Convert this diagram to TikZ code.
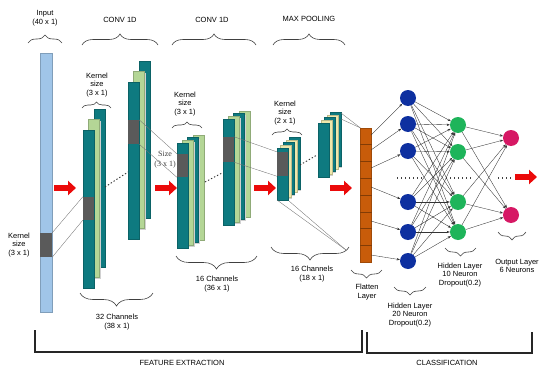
\documentclass[tikz,border=0pt]{standalone}
\usepackage{fontspec}
\setmainfont{Liberation Sans}
\newfontfamily\serifface{Liberation Serif}
\usepackage{tikz}
\usetikzlibrary{calc, arrows.meta, positioning, decorations.pathreplacing}
\definecolor{inblue}{RGB}{160,197,232}
\definecolor{tealbar}{RGB}{14,122,128}
\definecolor{lgreen}{RGB}{180,214,150}
\definecolor{cream}{RGB}{238,232,172}
\definecolor{kgray}{RGB}{90,90,90}
\definecolor{flatorange}{RGB}{200,92,10}
\definecolor{nblue}{RGB}{14,48,160}
\definecolor{ngreen}{RGB}{30,180,90}
\definecolor{npink}{RGB}{214,24,100}
\definecolor{arrowred}{RGB}{235,10,10}

\begin{document}
\begin{tikzpicture}[x=1pt,y=-1pt,
    lbl/.style={font=\fontsize{7.5}{8.8}\selectfont, align=center, inner sep=0pt},
    head/.style={font=\fontsize{7.5}{9}\selectfont, inner sep=0pt},
    barfill/.style={fill=#1, draw=#1!80!black, line width=0.3pt,
      preaction={fill=black!18, transform canvas={shift={(1.3pt,-1.3pt)}}}},
    kern/.style={rectangle, fill=kgray, inner sep=0pt, minimum width=11pt},
    guide/.style={black!55, line width=0.35pt},
    gap/.style={black!80, line width=0.9pt, dash pattern=on 1.4pt off 2pt},
    dots/.style={black!75, line width=1.1pt, dash pattern=on 1.1pt off 2.9pt},
    redarrow/.style={arrowred, line width=6pt, -{Triangle[width=14pt,length=8pt]}},
    brace/.style={decorate, decoration={brace, amplitude=#1}, draw=black!75, line width=0.6pt},
    brace/.default=9pt,
    neuron/.style={circle, fill=#1, minimum size=16pt, inner sep=0pt},
    conn/.style={-{Stealth[length=3.2pt,width=2.4pt]}, line width=0.35pt, black!80},
    bracket/.style={line width=1.1pt, black!85}]
\useasboundingbox (0,0) rectangle (550,375);

% input and feature maps
\path[barfill=inblue] (40,53) rectangle (52,312);
\foreach \k/\c in {2/tealbar,1/lgreen,0/tealbar}
  \path[barfill=\c] (83+\k*5.5,130-\k*10.5) rectangle ++(11,158);
\foreach \k/\c in {2/tealbar,1/lgreen,0/tealbar}
  \path[barfill=\c] (128+\k*5.5,82-\k*10.5) rectangle ++(11,157);
\foreach \k/\c in {3/lgreen,2/tealbar,1/lgreen,0/tealbar}
  \path[barfill=\c] (177+\k*5.3,143-\k*2.7) rectangle ++(11,105);
\foreach \k/\c in {3/lgreen,2/tealbar,1/lgreen,0/tealbar}
  \path[barfill=\c] (223+\k*5.3,119-\k*2.7) rectangle ++(11,106);
\foreach \k/\c in {4/tealbar,3/cream,2/tealbar,1/cream,0/tealbar}
  \path[barfill=\c] (277+\k*3,148-\k*2.7) rectangle ++(11,52);
\foreach \k/\c in {4/tealbar,3/cream,2/tealbar,1/cream,0/tealbar}
  \path[barfill=\c] (318+\k*3,123-\k*2.7) rectangle ++(11,54);

\node[kern, minimum width=12pt, minimum height=24pt] (kin) at (46,245) {};
\node[kern, minimum height=23pt] (k1) at (88.5,208.5) {};
\node[kern, minimum height=24pt] (k2) at (133.5,132) {};
\node[kern, minimum height=23pt] (k3) at (182.5,165.5) {};
\node[kern, minimum height=25pt] (k4) at (228.5,149.5) {};
\node[kern, minimum height=24pt] (k5) at (282.5,164) {};

\draw[guide] (kin.north east) -- (k1.north west);
\draw[guide] (kin.south east) -- (k1.south west);
\draw[guide] (k2.north east) -- (k3.north west);
\draw[guide] (k2.south east) -- (k3.south west);
\draw[guide] (k4.north east) -- (k5.north west);
\draw[guide] (k4.south east) -- (k5.south west);

\draw[gap] (105,187) -- (128,172);
\draw[gap] (205,182) -- (222,173);
\draw[gap] (300,165) -- (317,155);

% flatten layer
\node[rectangle, fill=flatorange, draw=flatorange!80!black, line width=0.3pt,
  minimum width=11pt, minimum height=134pt, inner sep=0pt] (flat) at (366,195) {};
\foreach \i in {1,...,7}
  \draw[flatorange!65!black, line width=0.4pt]
    ($(flat.north west)!\i/8!(flat.south west)$) -- ($(flat.north east)!\i/8!(flat.south east)$);

\coordinate (pin) at (346,250);
\draw[guide] (277,200) -- (pin);
\draw[guide] (289,201) -- (pin);
\draw[guide] (341,113) -- (flat.north west);
\draw[guide] (341,119) -- (flat.north west);

% red arrows
\foreach \a/\b/\y in {54/76/188,155/177/188,254/276/188,330/352/188,515/537/177}{
  \coordinate (ra) at (\a,\y);
  \coordinate (rb) at (\b,\y);
  \draw[redarrow] (ra) -- (rb);
}

% neurons
\foreach \i/\y in {1/98,2/124,3/151,4/202,5/232,6/261}
  \node[neuron=nblue] (a\i) at (408,\y) {};
\foreach \i/\y in {1/125,2/152,3/202,4/232}
  \node[neuron=ngreen] (b\i) at (458,\y) {};
\node[neuron=npink] (c1) at (511,138) {};
\node[neuron=npink] (c2) at (511,215) {};

\foreach \i/\y in {1/135,2/150,3/168,4/187,5/221,6/255}{
  \coordinate (f\i) at (371,\y);
  \draw[conn] (f\i) -- (a\i);
}
\foreach \i in {1,...,6}
  \foreach \j in {1,...,4}
    \draw[conn] (a\i) -- (b\j);
\foreach \j in {1,...,4}
  \foreach \m in {1,2}
    \draw[conn] (b\j) -- (c\m);

\draw[dots] (397,178) -- (422,178);
\draw[dots] (446,178) -- (471,178);
\draw[dots] (498,178) -- (512,178);

% headings and braces
\node[lbl] (inlbl) at (45,18) {Input\\(40 x 1)};
\node[head] (conv1) at (120,20) {CONV 1D};
\node[head] (conv2) at (212,20) {CONV 1D};
\node[head] (pool) at (309,19) {MAX POOLING};
\draw[brace=8pt] (28,43) -- (62,43);
\draw[brace=11pt] (82,45) -- (158,45);
\draw[brace=11pt] (172,45) -- (256,45);
\draw[brace=11pt] (273,45) -- (345,45);

\node[lbl] (kin1) at (97,85) {Kernel\\size\\(3 x 1)};
\node[lbl] (kin2) at (185,104) {Kernel\\size\\(3 x 1)};
\node[lbl] (kin3) at (285,113) {Kernel\\size\\(2 x 1)};
\node[lbl] (kin0) at (19,245) {Kernel\\size\\(3 x 1)};
\node[lbl, font=\serifface\fontsize{8}{10}\selectfont, text=black!75] (sz) at (165,160) {Size\\(3 x 1)};
\draw[brace=6pt] (82,108) -- (111,108);
\draw[brace=6pt] (172,128) -- (202,128);
\draw[brace=6pt] (272,135) -- (302,135);

\draw[brace=13pt] (153,293) -- (80,293);
\draw[brace=13pt] (257,256) -- (176,256);
\draw[brace=13pt] (349,247) -- (271,247);
\draw[brace=8pt] (382,270) -- (351,270);
\draw[brace=8pt] (426,287) -- (394,287);
\draw[brace=8pt] (476,248) -- (445,248);
\draw[brace=8pt] (526,232) -- (498,232);

\node[lbl] (ch1) at (117,322) {32 Channels\\(38 x 1)};
\node[lbl] (ch2) at (217,284) {16 Channels\\(36 x 1)};
\node[lbl] (ch3) at (312,274) {16 Channels\\(18 x 1)};
\node[lbl] (fl) at (367,292) {Flatten\\Layer};
\node[lbl] (h1) at (410,315) {Hidden Layer\\20 Neuron\\Dropout(0.2)};
\node[lbl] (h2) at (460,275) {Hidden Layer\\10 Neuron\\Dropout(0.2)};
\node[lbl] (ol) at (517,266) {Output Layer\\6 Neurons};

% bottom brackets
\draw[bracket] (35,330) |- (362,352) -- (362,330);
\draw[bracket] (367,332) |- (532,353) -- (532,332);
\node[head] (fe) at (182,363) {FEATURE EXTRACTION};
\node[head] (cl) at (447,363) {CLASSIFICATION};
\end{tikzpicture}
\end{document}
